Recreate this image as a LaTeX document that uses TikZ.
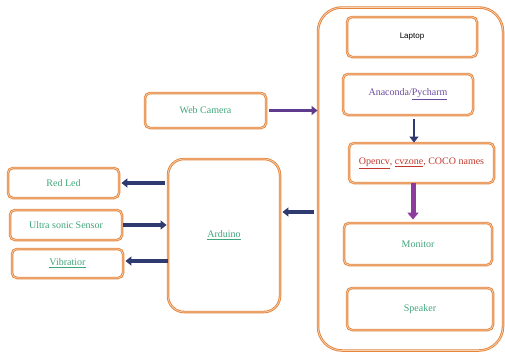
\documentclass[tikz,border=0pt]{standalone}
\usepackage{fontspec}
\setmainfont{Liberation Serif}
\newfontfamily\labelsans{Liberation Sans}
\usepackage{xcolor}
\usetikzlibrary{arrows.meta, positioning, calc}

\definecolor{boxorange}{HTML}{E5843A}
\definecolor{txtgreen}{HTML}{3FA57A}
\definecolor{txtpurple}{HTML}{6A4BA0}
\definecolor{txtred}{HTML}{C0392B}
\definecolor{arrnavy}{HTML}{2F3A70}
\definecolor{arrpurple}{HTML}{5E3B8C}
\definecolor{arrmagenta}{HTML}{8E3C9C}

\begin{document}
\begin{tikzpicture}[x=1pt, y=-1pt,
  box/.style={draw=boxorange, double=boxorange!35!white, double distance=0.7pt, line width=0.9pt,
    rounded corners=5pt, align=center, text=txtgreen, font=\fontsize{10}{12}\selectfont, inner sep=0pt},
  edge/.style={-{Triangle[length=6pt,width=9pt]}, line width=3.2pt, color=arrnavy}
]
\useasboundingbox (0,0) rectangle (505,354);

% laptop side
\node[box, rounded corners=24pt, minimum width=185pt, minimum height=343pt] (frame) at (410.5,179) {};
\node[box, minimum width=130pt, minimum height=40pt, text=black, font=\labelsans\fontsize{8}{10}\selectfont] (laptop) at (412,37) {Laptop};
\node[box, minimum width=130pt, minimum height=41pt, text=txtpurple] (anaconda) at (408,94.5) {Anaconda/\underline{Pycharm}};
\node[box, minimum width=145pt, minimum height=40pt, text=txtred] (opencv) at (421.5,163) {\underline{Opencv}, \underline{cvzone}, COCO names};
\node[box, minimum width=148pt, minimum height=42pt] (monitor) at (418,244) {Monitor};
\node[box, minimum width=146pt, minimum height=42pt] (speaker) at (420,309) {Speaker};

% inputs and outputs
\node[box, minimum width=121pt, minimum height=35pt] (webcam) at (205.5,110.5) {Web Camera};
\node[box, rounded corners=16pt, minimum width=112pt, minimum height=153pt] (arduino) at (224,235.5) {\underline{Arduino}};
\node[box, minimum width=111pt, minimum height=30pt] (redled) at (63.5,183) {Red Led};
\node[box, minimum width=112pt, minimum height=30pt] (ultra) at (66,225) {Ultra sonic Sensor};
\node[box, minimum width=111pt, minimum height=29pt] (vibra) at (67.5,263.5) {\underline{Vibratior}};

\draw[edge, color=arrpurple, shorten <=3pt] (webcam.east) -- (webcam.east -| frame.west);
\draw[edge, shorten <=4pt, shorten >=2pt] ([yshift=23.5pt]arduino.east -| frame.west) -- ([yshift=23.5pt]arduino.east);
\draw[edge, shorten <=3pt, shorten >=2pt] (redled -| arduino.west) -- (redled.east);
\draw[edge, shorten <=1pt, shorten >=1pt] (ultra.east) -- (ultra -| arduino.west);
\draw[edge, shorten >=2pt] ([yshift=2.5pt]vibra -| arduino.west) -- ([yshift=2.5pt]vibra.east);
\draw[edge, shorten <=4pt, line width=2.6pt] ([xshift=6pt]anaconda.south) -- ([xshift=6pt]anaconda.south |- opencv.north);
\draw[edge, color=arrmagenta, line width=5pt, -{Triangle[length=7pt,width=11pt]}, shorten >=3pt] ([xshift=-8.5pt]opencv.south) -- ([xshift=-8.5pt]opencv.south |- monitor.north);
\end{tikzpicture}
\end{document}
